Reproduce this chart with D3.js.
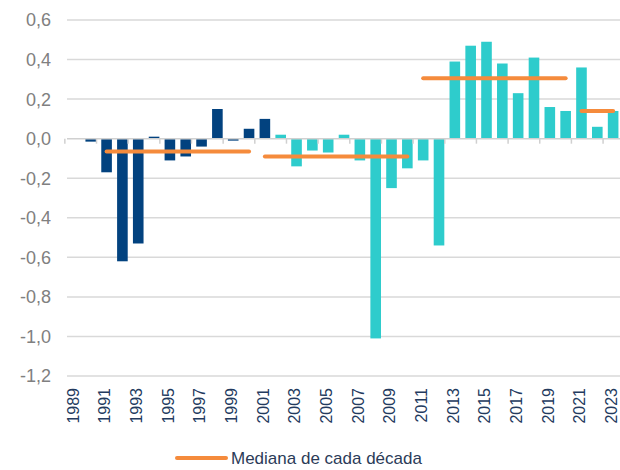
<!DOCTYPE html>
<html>
<head>
    <meta charset="utf-8">
    <title>Mediana de cada década</title>
    <style type="text/css">
        html, body { margin: 0; padding: 0; background: #fff; }
        svg { display: block; font-family: "Liberation Sans", Arial, sans-serif; }
    </style>
</head>
<body>
<div id="chart"></div>

<script src="https://cdnjs.cloudflare.com/ajax/libs/d3/7.8.5/d3.min.js"></script>
<script>

// years shown on the x axis
var years = [1989, 1990, 1991, 1992, 1993, 1994, 1995, 1996, 1997, 1998,
             1999, 2000, 2001, 2002, 2003, 2004, 2005, 2006, 2007, 2008,
             2009, 2010, 2011, 2012, 2013, 2014, 2015, 2016, 2017, 2018,
             2019, 2020, 2021, 2022, 2023];

// yearly values
var values = [0.00, -0.015, -0.17, -0.62, -0.53, 0.01, -0.11, -0.09, -0.04, 0.15,
              -0.01, 0.05, 0.10, 0.02, -0.14, -0.06, -0.07, 0.02, -0.11, -1.01,
              -0.25, -0.15, -0.11, -0.54, 0.39, 0.47, 0.49, 0.38, 0.23, 0.41,
              0.16, 0.14, 0.36, 0.06, 0.14];

// decades for the median lines [first year, last year]
var decades = [[1991, 2000], [2001, 2010], [2011, 2020], [2021, 2023]];

var yTicks = [0.6, 0.4, 0.2, 0.0, -0.2, -0.4, -0.6, -0.8, -1.0, -1.2];
var xLabels = years.filter(function(y, i) { return i % 2 === 0; });
var lastDarkYear = 2001;
var legendLabel = "Mediana de cada década";

var W = 620, H = 470;
var margin = {left: 67, right: 0, top: 20, bottom: 94};

var svg = d3.select("#chart").append("svg")
    .attr("width", W)
    .attr("height", H);

var x = d3.scaleBand()
    .domain(years)
    .range([margin.left, margin.left + 35 * 15.83])
    .paddingInner(0.33)
    .paddingOuter(0.165);

var y = d3.scaleLinear()
    .domain([-1.2, 0.6])
    .range([H - margin.bottom, margin.top]);

var fmt = function(d) { return d3.format(".1f")(d).replace(".", ",").replace("−", "-"); };

// horizontal gridlines
svg.append("g").selectAll("line")
    .data(yTicks.filter(function(d) { return d !== 0; }))
    .enter().append("line")
    .attr("x1", margin.left).attr("x2", W)
    .attr("y1", function(d) { return y(d); })
    .attr("y2", function(d) { return y(d); })
    .style("stroke", "#d9d9d9")
    .style("stroke-width", 1.5);

// y labels
svg.append("g").selectAll("text")
    .data(yTicks)
    .enter().append("text")
    .attr("x", 51)
    .attr("y", function(d) { return y(d); })
    .attr("dy", "0.36em")
    .attr("text-anchor", "end")
    .style("font-size", "18px")
    .style("fill", "#808080")
    .text(fmt);

// bars
svg.append("g").selectAll("rect")
    .data(years)
    .enter().append("rect")
    .attr("x", function(d) { return x(d); })
    .attr("width", x.bandwidth())
    .attr("y", function(d, i) { return y(Math.max(0, values[i])); })
    .attr("height", function(d, i) { return Math.abs(y(values[i]) - y(0)); })
    .style("fill", function(d) { return d <= lastDarkYear ? "#02427f" : "#2ecccc"; });

// zero axis with ticks every 2 years
var step = x.step();
svg.append("line")
    .attr("x1", margin.left).attr("x2", W)
    .attr("y1", y(0)).attr("y2", y(0))
    .style("stroke", "#d0d0d0")
    .style("stroke-width", 1.5);

svg.append("g").selectAll("line")
    .data(xLabels)
    .enter().append("line")
    .attr("x1", function(d) { return x(d) - x.bandwidth() * 0.25 - step * 0.165 + 0.5; })
    .attr("x2", function(d) { return x(d) - x.bandwidth() * 0.25 - step * 0.165 + 0.5; })
    .attr("y1", y(0))
    .attr("y2", y(0) + 5)
    .style("stroke", "#d0d0d0")
    .style("stroke-width", 1.5);

// median lines per decade
svg.append("g").selectAll("line")
    .data(decades)
    .enter().append("line")
    .attr("x1", function(d) { return x(d[0]) + x.bandwidth() / 2; })
    .attr("x2", function(d) { return x(d[1]) + x.bandwidth() / 2; })
    .attr("y1", function(d) { return y(decadeMedian(d)); })
    .attr("y2", function(d) { return y(decadeMedian(d)); })
    .style("stroke", "#f58b3c")
    .style("stroke-width", 4)
    .style("stroke-linecap", "round");

function decadeMedian(d) {
    var vals = [];
    years.forEach(function(yr, i) {
        if (yr >= d[0] && yr <= d[1]) vals.push(values[i]);
    });
    return d3.median(vals);
}

// x labels, rotated
svg.append("g").selectAll("text")
    .data(xLabels)
    .enter().append("text")
    .attr("transform", function(d) {
        return "translate(" + (x(d) + x.bandwidth() / 2 - 2) + "," + 388 + ") rotate(-90)";
    })
    .attr("dy", "0.36em")
    .attr("text-anchor", "end")
    .style("font-size", "16px")
    .style("fill", "#233a5e")
    .text(function(d) { return d; });

// legend
var legend = svg.append("g");
legend.append("line")
    .attr("x1", 177).attr("x2", 226)
    .attr("y1", 458).attr("y2", 458)
    .style("stroke", "#f58b3c")
    .style("stroke-width", 4)
    .style("stroke-linecap", "round");
legend.append("text")
    .attr("x", 231)
    .attr("y", 464)
    .style("font-size", "17px")
    .style("fill", "#2b3b58")
    .text(legendLabel);

</script>
</body>
</html>
